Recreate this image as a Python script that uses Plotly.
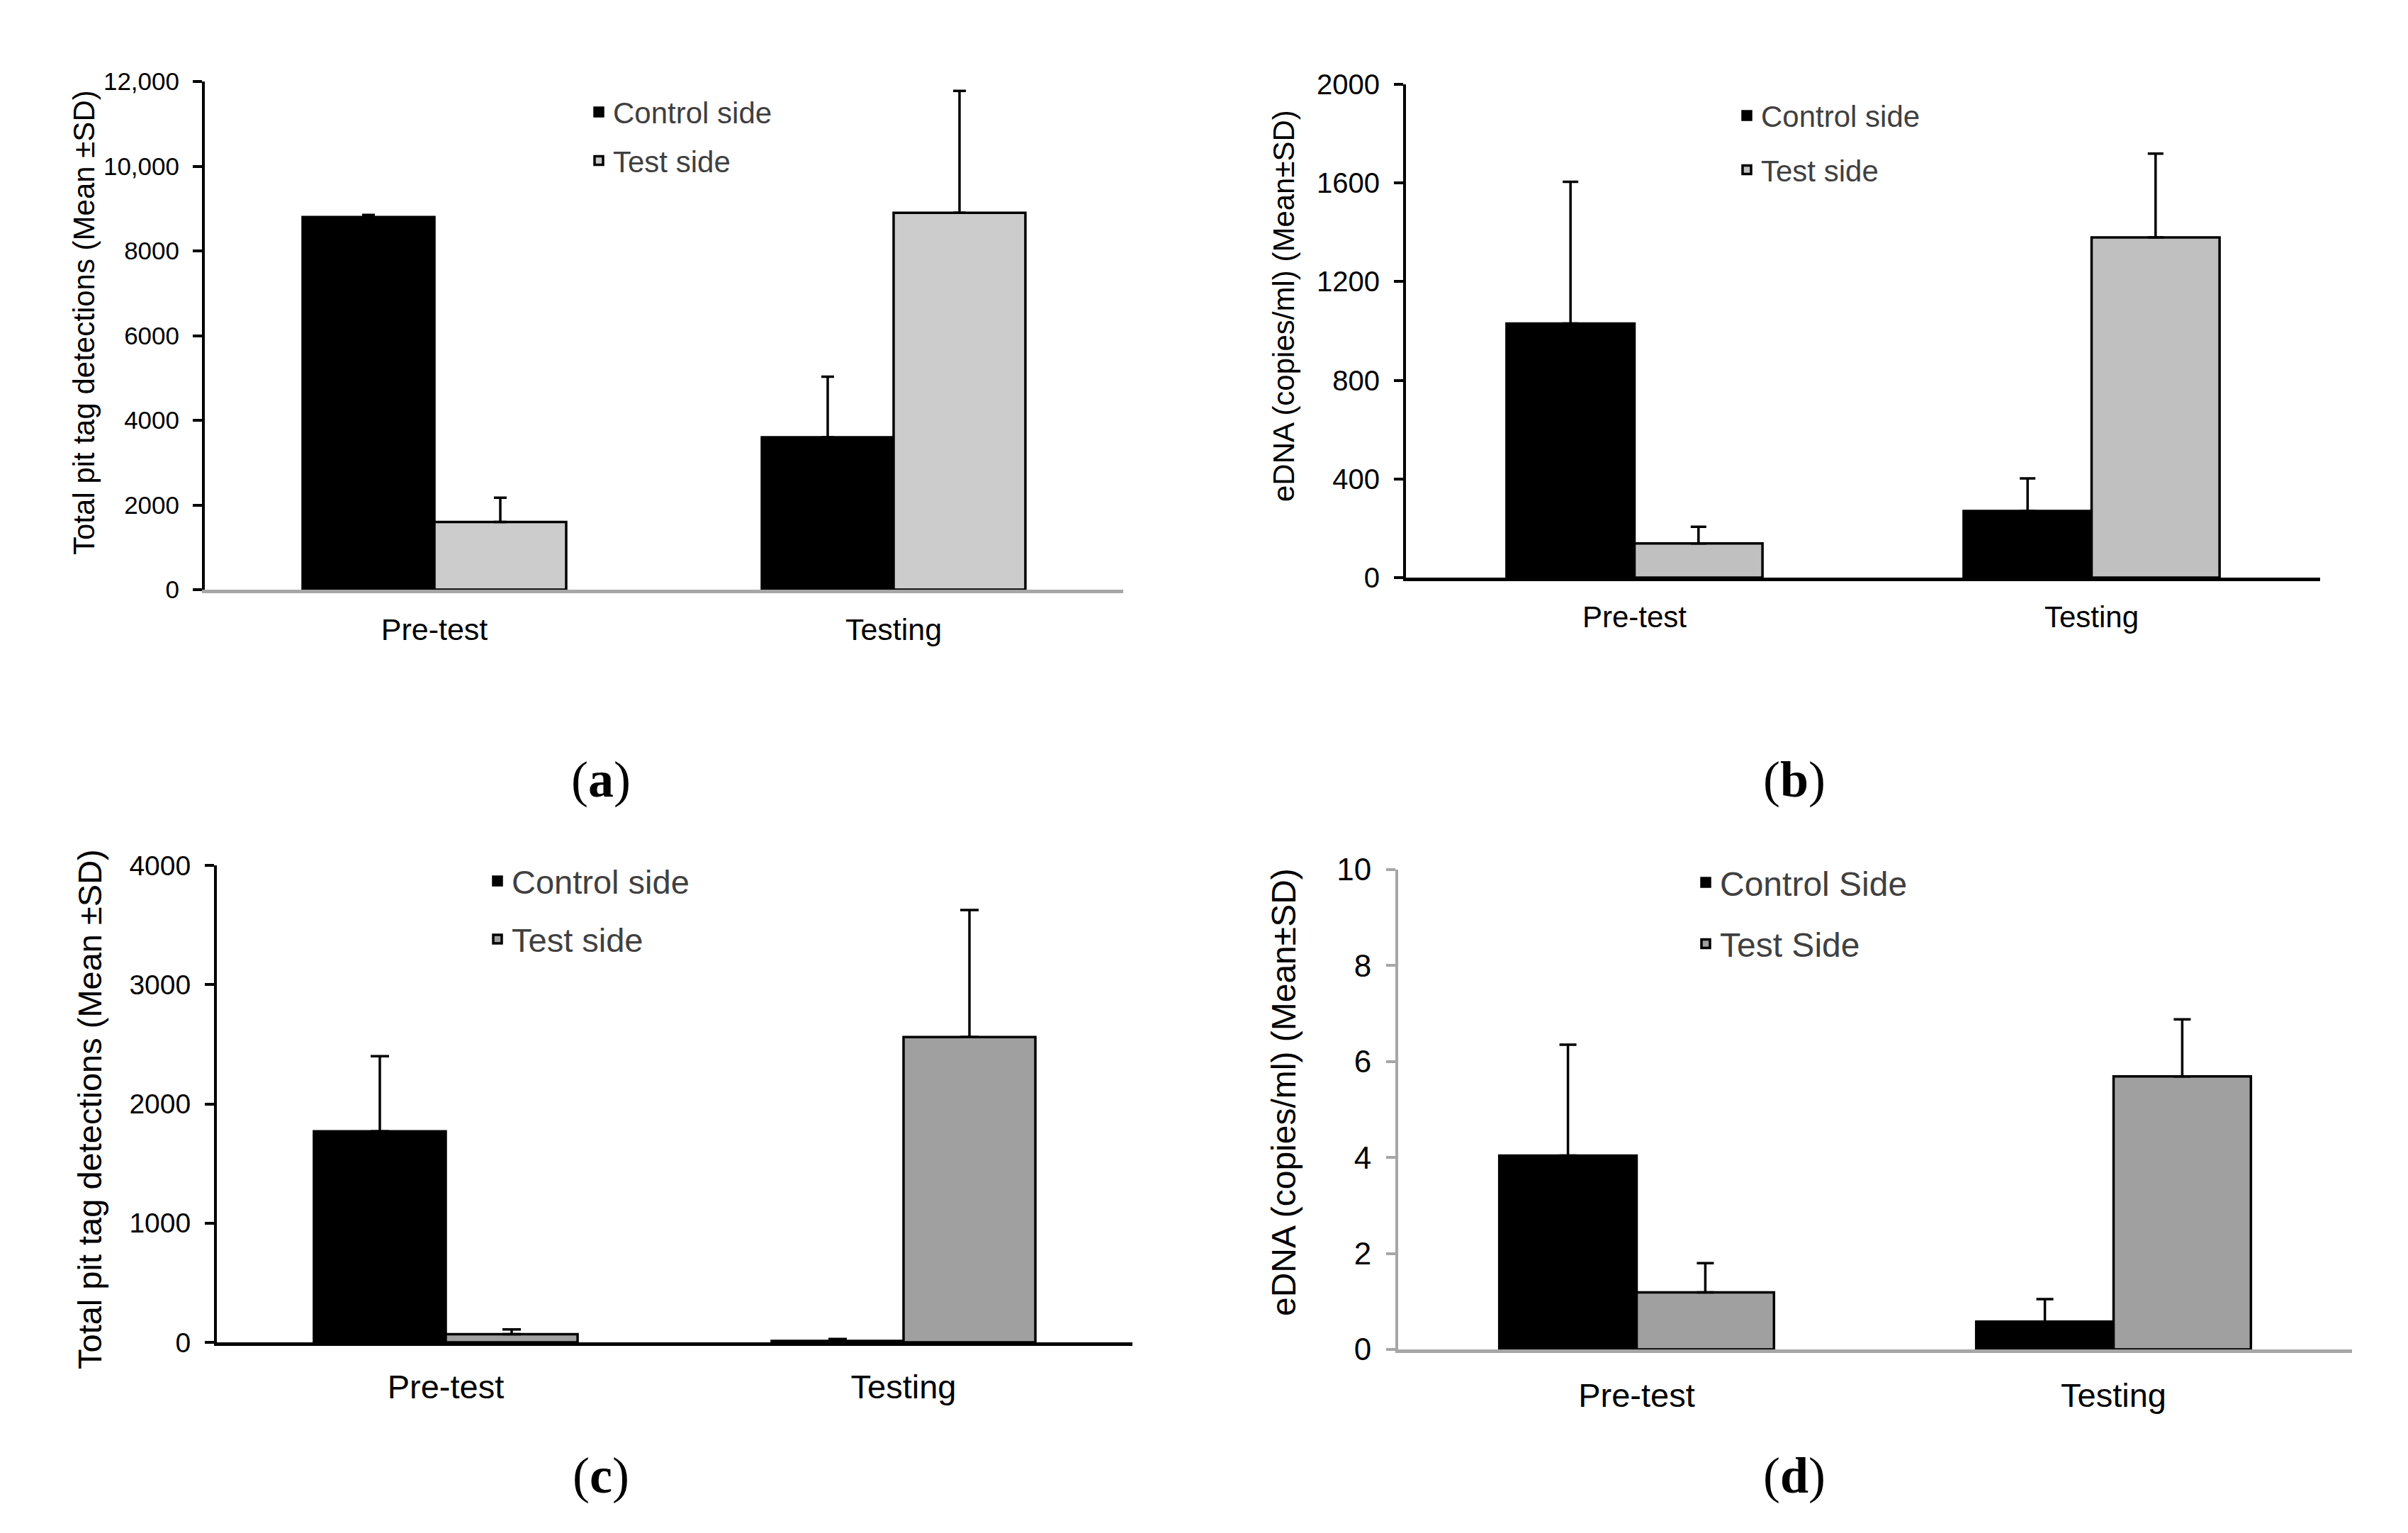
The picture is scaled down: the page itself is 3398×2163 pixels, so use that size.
import plotly.graph_objects as go

W, H = 3398, 2163

groups = ["Pre-test", "Testing"]

# (a) total pit tag detections, first trial
a_control = [8800, 3600]
a_control_sd = [50, 1430]
a_test = [1600, 8900]
a_test_sd = [570, 2880]

# (b) eDNA, first trial
b_control = [1030, 270]
b_control_sd = [575, 132]
b_test = [139, 1379]
b_test_sd = [67, 340]

# (c) total pit tag detections, second trial
c_control = [1770, 12]
c_control_sd = [630, 16]
c_test = [69, 2560]
c_test_sd = [40, 1065]

# (d) eDNA, second trial
d_control = [4.04, 0.58]
d_control_sd = [2.31, 0.47]
d_test = [1.19, 5.69]
d_test_sd = [0.61, 1.19]

pit_title = "Total pit tag detections (Mean ±SD)"
dna_title = "eDNA (copies/ml) (Mean±SD)"

SANS = "Liberation Sans, Arial, sans-serif"
SERIF = "Liberation Serif, Times New Roman, serif"


def px_x(v):
    return v / W


def px_y(v):
    # pixel row from top -> paper coordinate
    return 1 - v / H


# one entry per panel: data + look, pixel positions
panels = [
    dict(tag="a", control=a_control, control_sd=a_control_sd, test=a_test, test_sd=a_test_sd,
         names=("Control side", "Test side"), test_color="#cccccc",
         xdom=(289, 1585), ydom=(832, 115), ymax=12000,
         tickvals=[0, 2000, 4000, 6000, 8000, 10000, 12000],
         ticktext=["0", "2000", "4000", "6000", "8000", "10,000", "12,000"],
         xline="#a6a6a6", yline="black", tickfont=35, catfont=43, catpad=14, half=0.287, cap=9,
         title=pit_title, title_size=42, title_pos=(118, 455),
         leg_pos=(845, 153), leg_font=42, leg_gap=11, label_pos=(848, 1100)),
    dict(tag="b", control=b_control, control_sd=b_control_sd, test=b_test, test_sd=b_test_sd,
         names=("Control side", "Test side"), test_color="#c0c0c0",
         xdom=(1984, 3274), ydom=(815, 119), ymax=2000,
         tickvals=[0, 400, 800, 1200, 1600, 2000],
         ticktext=["0", "400", "800", "1200", "1600", "2000"],
         xline="black", yline="black", tickfont=40, catfont=42, catpad=15, half=0.28, cap=11,
         title=dna_title, title_size=42, title_pos=(1811, 432),
         leg_pos=(2465, 158), leg_font=42, leg_gap=19, label_pos=(2532, 1100)),
    dict(tag="c", control=c_control, control_sd=c_control_sd, test=c_test, test_sd=c_test_sd,
         names=("Control side", "Test side"), test_color="#a0a0a0",
         xdom=(306, 1598), ydom=(1894, 1221), ymax=4000,
         tickvals=[0, 1000, 2000, 3000, 4000],
         ticktext=["0", "1000", "2000", "3000", "4000"],
         xline="black", yline="black", tickfont=39, catfont=47, catpad=18, half=0.288, cap=13,
         title=pit_title, title_size=47, title_pos=(126, 1565),
         leg_pos=(702, 1238), leg_font=47, leg_gap=18, label_pos=(848, 2082)),
    dict(tag="d", control=d_control, control_sd=d_control_sd, test=d_test, test_sd=d_test_sd,
         names=("Control Side", "Test Side"), test_color="#a0a0a0",
         xdom=(1973, 3319), ydom=(1904, 1227), ymax=10,
         tickvals=[0, 2, 4, 6, 8, 10],
         ticktext=["0", "2", "4", "6", "8", "10"],
         xline="#a6a6a6", yline="#a6a6a6", tickfont=44, catfont=47, catpad=20, half=0.288, cap=12,
         title=dna_title, title_size=48, title_pos=(1811, 1541),
         leg_pos=(2407, 1240), leg_font=48, leg_gap=21, label_pos=(2532, 2082)),
]

fig = go.Figure()
layout = {}
annotations = []

for i, p in enumerate(panels):
    n = "" if i == 0 else str(i + 1)
    xa, ya, lg = "x" + n, "y" + n, "legend" + n
    w = p["half"]

    fig.add_trace(go.Bar(
        x=groups, y=p["control"], name=p["names"][0],
        xaxis=xa, yaxis=ya, legend=lg, legendgroup=p["tag"] + "c",
        width=w, offset=-w,
        marker=dict(color="black", line=dict(color="black", width=3.5)),
        error_y=dict(type="data", symmetric=False, array=p["control_sd"], arrayminus=[0, 0],
                     color="black", thickness=3.5, width=p["cap"]),
    ))
    fig.add_trace(go.Bar(
        x=groups, y=p["test"], name=p["names"][1],
        xaxis=xa, yaxis=ya, legend=lg, legendgroup=p["tag"] + "t",
        width=w, offset=0,
        marker=dict(color=p["test_color"], line=dict(color="black", width=3.5)),
        error_y=dict(type="data", symmetric=False, array=p["test_sd"], arrayminus=[0, 0],
                     color="black", thickness=3.5, width=p["cap"]),
    ))

    layout["xaxis" + n] = dict(
        domain=[px_x(p["xdom"][0]), px_x(p["xdom"][1])], anchor=ya,
        type="category", range=[-0.5, 1.5], automargin=False,
        showline=True, linecolor=p["xline"], linewidth=5,
        ticks="", ticklabelstandoff=p["catpad"],
        tickfont=dict(family=SANS, size=p["catfont"], color="black"),
        showgrid=False, zeroline=False, fixedrange=True,
    )
    layout["yaxis" + n] = dict(
        domain=[px_y(p["ydom"][0]), px_y(p["ydom"][1])], anchor=xa,
        range=[0, p["ymax"]], tickvals=p["tickvals"], ticktext=p["ticktext"],
        automargin=False,
        ticks="outside", ticklen=13, tickwidth=4, tickcolor=p["yline"],
        showline=True, linecolor=p["yline"], linewidth=4,
        ticklabelstandoff=12,
        tickfont=dict(family=SANS, size=p["tickfont"], color="black"),
        showgrid=False, zeroline=False, fixedrange=True,
    )

    item_h = p["leg_font"] * 1.3 + 3
    layout[lg] = dict(
        x=px_x(p["leg_pos"][0] - 20), y=px_y(p["leg_pos"][1] - item_h / 2),
        xanchor="left", yanchor="top",
        font=dict(family=SANS, size=p["leg_font"], color="#404040"),
        bgcolor="rgba(0,0,0,0)", borderwidth=0,
        traceorder="grouped", tracegroupgap=p["leg_gap"],
        itemclick=False, itemdoubleclick=False,
    )

    annotations.append(dict(
        text=p["title"], textangle=-90, showarrow=False,
        xref="paper", yref="paper",
        x=px_x(p["title_pos"][0]), y=px_y(p["title_pos"][1]),
        xanchor="center", yanchor="middle",
        font=dict(family=SANS, size=p["title_size"], color="black"),
    ))
    annotations.append(dict(
        text="(<b>" + p["tag"] + "</b>)", showarrow=False,
        xref="paper", yref="paper",
        x=px_x(p["label_pos"][0]), y=px_y(p["label_pos"][1]),
        xanchor="center", yanchor="middle",
        font=dict(family=SERIF, size=72, color="black"),
    ))

fig.update_layout(
    width=W, height=H,
    margin=dict(l=0, r=0, t=0, b=0, autoexpand=False),
    paper_bgcolor="white", plot_bgcolor="white",
    font=dict(family=SANS),
    showlegend=True,
    annotations=annotations,
    **layout,
)

# page has a default 8px body margin; drop it so the figure sits at the origin
fig.write_html("out.html", config={"displayModeBar": False},
               post_script="document.body.style.margin = '0';")
